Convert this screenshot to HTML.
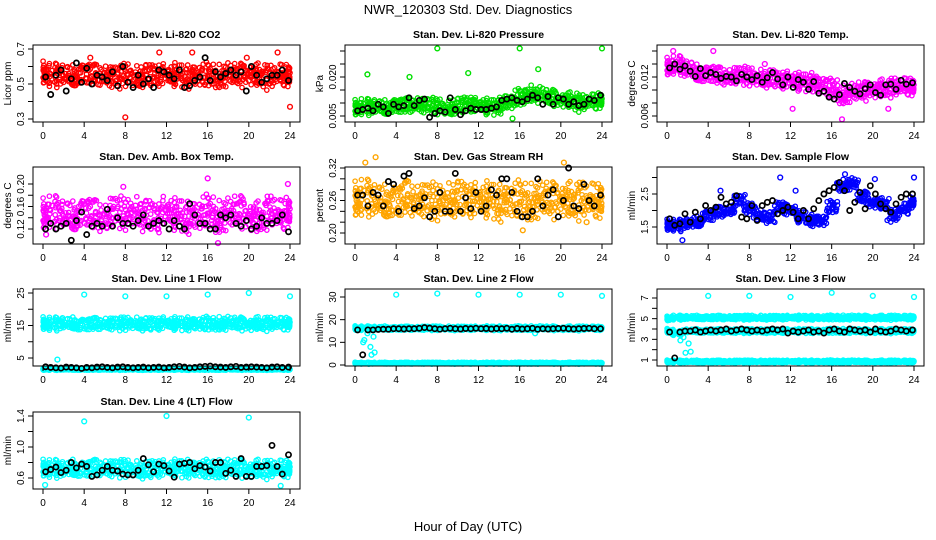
<!DOCTYPE html>
<html><head><meta charset="utf-8"><style>
html,body{margin:0;padding:0;background:#fff;}
svg{display:block;font-family:"Liberation Sans",sans-serif;}
</style></head><body>
<svg id="chart" width="936" height="540" viewBox="0 0 936 540">
<text x="468" y="14" text-anchor="middle" font-size="13">NWR_120303 Std. Dev. Diagnostics</text>
<text x="468" y="531" text-anchor="middle" font-size="13">Hour of Day (UTC)</text>
</svg>
<script>
const xTicks = [0,4,8,12,16,20,24];
const cloudHours = [0,1,2,3,4,5,6,7,8,9,10,11,12,13,14,15,16,17,18,19,20,21,22,23,24];
const blackHours = [0.25,0.75,1.25,1.75,2.25,2.75,3.25,3.75,4.25,4.75,5.25,5.75,6.25,6.75,7.25,7.75,8.25,8.75,9.25,9.75,10.25,10.75,11.25,11.75,12.25,12.75,13.25,13.75,14.25,14.75,15.25,15.75,16.25,16.75,17.25,17.75,18.25,18.75,19.25,19.75,20.25,20.75,21.25,21.75,22.25,22.75,23.25,23.85];

const co2Cloud = [0.56,0.55,0.55,0.54,0.56,0.55,0.55,0.54,0.55,0.54,0.55,0.55,0.55,0.55,0.54,0.55,0.55,0.54,0.55,0.55,0.56,0.55,0.54,0.55,0.55];
const co2Black = [0.54,0.44,0.55,0.58,0.46,0.53,0.62,0.51,0.59,0.50,0.55,0.54,0.52,0.57,0.49,0.60,0.51,0.48,0.55,0.50,0.53,0.48,0.58,0.57,0.55,0.53,0.58,0.48,0.49,0.52,0.54,0.65,0.52,0.57,0.54,0.56,0.58,0.55,0.57,0.46,0.60,0.55,0.51,0.53,0.55,0.55,0.58,0.52];
const co2Out = [[8,0.31],[24,0.37],[11.3,0.68],[14.5,0.68],[22.8,0.68],[4.6,0.65],[19.8,0.65]];

const presCloud = [0.0080,0.0085,0.0085,0.008,0.009,0.009,0.0095,0.009,0.0085,0.008,0.009,0.0095,0.009,0.0085,0.009,0.0105,0.012,0.0135,0.013,0.012,0.0115,0.011,0.010,0.0105,0.011];
const presBlack = [0.007,0.0075,0.008,0.007,0.0095,0.0085,0.006,0.0095,0.0085,0.009,0.012,0.009,0.011,0.0115,0.0045,0.006,0.007,0.0065,0.012,0.0075,0.0055,0.007,0.008,0.0075,0.0075,0.0075,0.008,0.0085,0.011,0.0115,0.012,0.011,0.0105,0.0115,0.013,0.012,0.0095,0.0125,0.0095,0.012,0.0115,0.0095,0.0105,0.009,0.0095,0.0115,0.011,0.013];
const presOut = [[8,0.031],[16,0.031],[24,0.031],[1.2,0.021],[17.8,0.023],[15.3,0.004],[5.3,0.020],[11,0.0215]];

const tempCloud = [0.0135,0.0138,0.0132,0.0125,0.0125,0.0122,0.012,0.0122,0.012,0.0118,0.0118,0.0115,0.0115,0.0112,0.0112,0.0108,0.0102,0.0092,0.0095,0.0098,0.0102,0.0102,0.0104,0.0105,0.0105];
const tempBlack = [0.0134,0.0140,0.0132,0.0137,0.0129,0.0121,0.0133,0.0122,0.0127,0.0124,0.0118,0.0121,0.0120,0.0114,0.0124,0.0120,0.0116,0.0122,0.0112,0.0119,0.0127,0.0117,0.0108,0.0120,0.0104,0.0116,0.0112,0.0101,0.0113,0.0095,0.0098,0.0089,0.0086,0.0093,0.0110,0.0104,0.0098,0.0094,0.0102,0.0108,0.0096,0.0092,0.0108,0.0109,0.0101,0.0115,0.0109,0.0111];
const tempOut = [[0.6,0.016],[4.5,0.016],[17,0.0055],[12.2,0.0071],[21.5,0.0071],[9.5,0.0140]];

const ambCloud = [0.145,0.15,0.145,0.14,0.15,0.145,0.14,0.15,0.145,0.15,0.145,0.14,0.15,0.145,0.14,0.145,0.15,0.14,0.145,0.15,0.145,0.14,0.15,0.145,0.15];
const ambBlack = [0.12,0.13,0.12,0.125,0.13,0.1,0.135,0.15,0.11,0.125,0.13,0.125,0.155,0.125,0.14,0.13,0.13,0.125,0.135,0.145,0.125,0.13,0.135,0.13,0.12,0.135,0.125,0.12,0.165,0.145,0.13,0.13,0.12,0.12,0.145,0.14,0.145,0.13,0.125,0.135,0.12,0.125,0.14,0.13,0.13,0.135,0.145,0.115];
const ambOut = [[16,0.21],[17,0.095],[0.3,0.11],[7.8,0.195],[23.8,0.2]];

const rhCloud = [0.26,0.265,0.26,0.255,0.26,0.265,0.26,0.26,0.255,0.26,0.265,0.26,0.26,0.26,0.255,0.26,0.26,0.255,0.26,0.26,0.265,0.26,0.26,0.26,0.26];
const rhBlack = [0.27,0.27,0.25,0.275,0.27,0.25,0.295,0.29,0.24,0.305,0.31,0.245,0.25,0.265,0.23,0.24,0.275,0.24,0.24,0.31,0.24,0.265,0.245,0.275,0.24,0.25,0.28,0.27,0.30,0.30,0.275,0.24,0.23,0.23,0.24,0.30,0.25,0.27,0.28,0.23,0.26,0.32,0.25,0.245,0.29,0.26,0.25,0.27];
const rhOut = [[2,0.34],[16.3,0.205],[20.3,0.33],[1,0.33],[22.5,0.22]];

const flowCloud = [1.55,1.55,1.6,1.65,1.85,1.95,2.0,2.3,2.05,1.85,1.8,2.1,2.0,1.8,1.7,1.7,2.1,2.75,2.8,2.4,2.25,2.2,1.85,2.05,2.25];
const flowBlack = [1.75,1.55,1.6,1.9,1.65,1.95,1.75,2.15,2.0,2.1,2.4,2.2,2.25,2.45,1.8,1.75,2.15,1.7,2.15,2.25,2.3,1.9,2.0,2.1,1.95,1.75,2.0,1.75,2.05,2.3,2.5,2.6,2.7,2.85,2.6,2.0,2.25,2.55,2.05,2.75,2.5,2.2,2.05,1.95,2.2,2.4,2.5,2.5];
const flowOut = [[1.5,1.1],[5.2,2.6],[11,3.0],[12.5,2.6],[17.3,3.1],[24,3.0],[20.2,2.95]];

const l1Upper = [15.5,15.5,15.6,15.5,15.4,15.5,15.6,15.5,15.5,15.6,15.5,15.5,15.6,15.5,15.5,15.6,15.5,15.5,15.6,15.5,15.5,15.6,15.5,15.5,15.6];
const l1Lower = [1.5,1.5,1.5,1.5,1.5,1.5,1.5,1.5,1.5,1.5,1.5,1.5,1.5,1.5,1.5,1.5,1.5,1.5,1.5,1.5,1.5,1.5,1.5,1.5,1.5];
const l1Black = [2.3,2.1,2.0,1.9,2.2,2.1,2.0,1.8,2.1,2.0,2.2,2.3,2.1,2.0,2.2,2.3,2.1,2.0,2.1,2.2,2.0,2.1,2.2,2.0,2.1,2.3,2.4,2.2,2.0,2.1,2.3,2.4,2.5,2.3,2.2,2.1,2.3,2.4,2.1,2.2,2.3,2.2,2.1,2.0,2.2,2.3,2.1,2.2];
const l1Out = [[4,24.5],[8,24],[12,24],[16,24.5],[20,25],[24,24],[1.4,4.5]];

const l2Upper = [16.2,16.2,16.2,16.2,16.2,16.2,16.2,16.2,16.2,16.2,16.2,16.2,16.2,16.2,16.2,16.2,16.2,16.2,16.2,16.2,16.2,16.2,16.2,16.2,16.2];
const l2Lower = [0.8,0.8,0.8,0.8,0.8,0.8,0.8,0.8,0.8,0.8,0.8,0.8,0.8,0.8,0.8,0.8,0.8,0.8,0.8,0.8,0.8,0.8,0.8,0.8,0.8];
const l2Black = [15.5,4.5,15.5,15.5,15.7,15.8,15.8,16,16,15.9,16,16,16.2,16.5,16.3,16,15.8,16,16.2,16,15.9,16.1,16,16.2,16,16.1,15.9,16.1,16,16.2,15.8,16.1,15.9,16,16.2,15.8,16,15.9,16,16.1,16.2,16.0,15.9,16,16.1,16.2,16,16];
const l2Out = [[4,31],[8,31.5],[12,31],[16,31],[20,31],[24,30.5],[0.8,10],[0.9,11],[1.5,8],[1.2,14],[1.8,12.5],[1.6,4.5],[1.9,5.5],[17.5,14]];

const l3Upper = [5.0,5.1,5.1,5.1,5.1,5.1,5.1,5.1,5.1,5.1,5.1,5.1,5.1,5.1,5.1,5.1,5.1,5.1,5.1,5.1,5.1,5.1,5.1,5.1,5.1];
const l3Mid = [3.8,3.6,3.8,3.8,3.8,3.8,3.8,3.8,3.8,3.8,3.8,3.8,3.8,3.8,3.8,3.8,3.8,3.8,3.8,3.8,3.8,3.8,3.8,3.8,3.8];
const l3Lower = [0.85,0.85,0.85,0.85,0.85,0.85,0.85,0.85,0.85,0.85,0.85,0.85,0.85,0.85,0.85,0.85,0.85,0.85,0.85,0.85,0.85,0.85,0.85,0.85,0.85];
const l3Black = [3.7,1.2,3.7,3.8,3.8,3.9,3.7,3.8,3.9,3.8,3.9,4.0,3.8,3.9,4.0,3.9,3.8,3.9,3.8,3.9,4.0,3.9,4.0,3.6,3.8,3.7,3.8,3.9,3.7,3.8,3.6,3.9,4.0,3.8,3.7,4.0,3.9,3.8,3.9,3.7,4.0,3.8,3.7,3.8,4.0,3.9,3.8,3.9];
const l3Out = [[4,7.2],[8,7.2],[12,7.1],[16,7.5],[20,7.2],[24,7.1],[1.3,2.9],[1.6,3.2],[1.8,1.7],[2.3,1.8],[2.1,2.6]];

const l4Cloud = [0.72,0.72,0.71,0.72,0.72,0.73,0.73,0.72,0.72,0.71,0.71,0.72,0.72,0.72,0.72,0.72,0.71,0.71,0.72,0.72,0.72,0.72,0.71,0.72,0.72];
const l4Black = [0.68,0.71,0.74,0.67,0.70,0.80,0.73,0.78,0.75,0.62,0.64,0.70,0.75,0.70,0.69,0.65,0.64,0.64,0.70,0.85,0.77,0.68,0.78,0.76,0.69,0.61,0.78,0.79,0.80,0.72,0.76,0.74,0.69,0.80,0.80,0.66,0.70,0.62,0.85,0.62,0.62,0.75,0.75,0.76,1.02,0.75,0.65,0.90];
const l4Out = [[4,1.33],[12,1.4],[20,1.38],[23.1,0.5],[0.2,0.51]];

// fixed spreading pattern for cloud marks (dx in hours fraction, dy in band fraction)
const jitter = [[-0.45,0.1],[-0.3,-0.8],[-0.15,0.6],[0.02,-0.2],[0.15,0.9],[0.3,-0.5],[0.45,0.3],[-0.4,-0.4],[-0.2,-0.95],[0.05,0.45],[0.25,0.05],[0.4,-0.85],[-0.35,0.8],[-0.05,-0.6],[0.2,-0.3],[0.35,0.65],[-0.25,0.25],[0.1,-0.1],[-0.1,0.95],[0.48,-0.15],
 [-0.48,-0.7],[-0.12,0.3],[0.28,0.75],[-0.33,-0.1],[0.07,-0.75],[0.42,0.5],[-0.22,-0.45],[0.18,0.2],[-0.02,0.7],[0.33,-0.25],[-0.42,0.55],[0.12,-0.5],[-0.28,0.05],[0.46,0.85],[-0.08,-0.3],[0.24,-0.9]];

const panels = [
 {name:'co2',title:'Stan. Dev. Li-820 CO2',ylab:'Licor ppm',bx:33,by:45,ref:[0.3,119,0.7,49],ticks:[0.3,0.4,0.5,0.6,0.7],labels:['0.3',null,'0.5',null,'0.7'],color:'#ff0000',clouds:[[co2Cloud,0.075]],black:co2Black,out:co2Out},
 {name:'pressure',title:'Stan. Dev. Li-820 Pressure',ylab:'kPa',bx:345,by:45,ref:[0.005,116,0.020,77],ticks:[0.005,0.010,0.015,0.020,0.025,0.030],labels:['0.005',null,null,'0.020',null,null],color:'#00e000',clouds:[[presCloud,0.0035]],black:presBlack,out:presOut},
 {name:'temp',title:'Stan. Dev. Li-820 Temp.',ylab:'degrees C',bx:657,by:45,ref:[0.006,116,0.012,77],ticks:[0.006,0.008,0.010,0.012,0.014,0.016],labels:['0.006',null,null,'0.012',null,null],color:'#ff00ff',clouds:[[tempCloud,0.0016]],black:tempBlack,out:tempOut},
 {name:'amb-box-temp',title:'Stan. Dev. Amb. Box Temp.',ylab:'degrees C',bx:33,by:167,ref:[0.12,229,0.20,184],ticks:[0.12,0.14,0.16,0.18,0.20],labels:['0.12',null,'0.16',null,'0.20'],color:'#ff00ff',clouds:[[ambCloud,0.032]],black:ambBlack,out:ambOut},
 {name:'gas-rh',title:'Stan. Dev. Gas Stream RH',ylab:'percent',bx:345,by:167,ref:[0.20,233,0.32,168],ticks:[0.20,0.22,0.24,0.26,0.28,0.30,0.32],labels:['0.20',null,null,'0.26',null,null,'0.32'],color:'#ffa500',clouds:[[rhCloud,0.038]],black:rhBlack,out:rhOut},
 {name:'sample-flow',title:'Stan. Dev. Sample Flow',ylab:'ml/min',bx:657,by:167,ref:[1.5,227,2.5,194],ticks:[1.5,2.0,2.5,3.0],labels:['1.5',null,'2.5',null],color:'#0000ff',clouds:[[flowCloud,0.2]],black:flowBlack,out:flowOut},
 {name:'line1-flow',title:'Stan. Dev. Line 1 Flow',ylab:'ml/min',bx:33,by:289,ref:[5,358,25,293],ticks:[5,10,15,20,25],labels:['5',null,'15',null,'25'],color:'#00ffff',clouds:[[l1Upper,2.3],[l1Lower,0.3]],black:l1Black,out:l1Out},
 {name:'line2-flow',title:'Stan. Dev. Line 2 Flow',ylab:'ml/min',bx:345,by:289,ref:[0,365,30,297],ticks:[0,10,20,30],labels:['0','10','20','30'],color:'#00ffff',clouds:[[l2Upper,1.1],[l2Lower,0.45]],black:l2Black,out:l2Out},
 {name:'line3-flow',title:'Stan. Dev. Line 3 Flow',ylab:'ml/min',bx:657,by:289,ref:[1,360,7,298],ticks:[1,2,3,4,5,6,7],labels:['1',null,'3',null,'5',null,'7'],color:'#00ffff',clouds:[[l3Upper,0.25],[l3Mid,0.25],[l3Lower,0.15]],black:l3Black,out:l3Out},
 {name:'line4-flow',title:'Stan. Dev. Line 4 (LT) Flow',ylab:'ml/min',bx:33,by:412,ref:[0.6,478,1.4,416],ticks:[0.6,0.8,1.0,1.2,1.4],labels:['0.6',null,'1.0',null,'1.4'],color:'#00ffff',clouds:[[l4Cloud,0.13]],black:l4Black,out:l4Out}
];

const NS='http://www.w3.org/2000/svg';
const svg=document.getElementById('chart');
const BW=267, BH=77;
function mk(tag,attrs,parent){const e=document.createElementNS(NS,tag);for(const k in attrs)e.setAttribute(k,attrs[k]);parent.appendChild(e);return e;}

panels.forEach(p=>{
  const g=mk('g',{},svg);
  
  
  const xS=h=>p.bx+10+h*(BW-20)/24;
  const yS=v=>p.ref[1]+(v-p.ref[0])*(p.ref[3]-p.ref[1])/(p.ref[2]-p.ref[0]);
  const t=mk('text',{x:p.bx+BW/2,y:p.by-7,'text-anchor':'middle','font-size':'10.5','font-weight':'bold'},g);
  t.textContent=p.title;
  
  
  const mg=mk('g',{fill:'none'},g);
  
  
  const L=jitter.length;
  p.clouds.forEach(c=>{
    const vals=c[0], spread=c[1];
    vals.forEach((v,i)=>{
      for(let k=0;k<24;k++){
        const j=jitter[(k*5+i*7)%L];
        const j2=jitter[(k*11+i*3+4)%L];
        let h=cloudHours[i]+j[0]+j2[0]*0.25;
        if(h<0)h=-h*0.3; if(h>24)h=24-(h-24)*0.3;
        const dy=j[1]*0.75+j2[1]*0.3;
        const cc=mk('circle',{cx:xS(h).toFixed(1),cy:yS(v+dy*spread).toFixed(1),r:2.2,stroke:p.color,'stroke-width':1.3},mg);
        
        
      }
    });
  });
  p.out.forEach(o=>{
    const cc=mk('circle',{cx:xS(o[0]).toFixed(1),cy:yS(o[1]).toFixed(1),r:2.4,stroke:p.color,'stroke-width':1.4},mg);
    
    
  });
  p.black.forEach((v,i)=>{
    const cc=mk('circle',{cx:xS(blackHours[i]).toFixed(1),cy:yS(v).toFixed(1),r:2.6,stroke:'#000','stroke-width':1.7},mg);
    
    
  });
  const box=mk('rect',{x:p.bx,y:p.by,width:BW,height:BH,fill:'none',stroke:'#000','stroke-width':1},g);
  
  
  const xa=mk('g',{stroke:'#000','stroke-width':1},g);
  
  
  const yb=p.by+BH;
  xTicks.forEach(h=>{
    mk('line',{x1:xS(h),x2:xS(h),y1:yb,y2:yb+5},xa);
    const tl=mk('text',{x:xS(h),y:yb+17,'text-anchor':'middle','font-size':'10',stroke:'none',fill:'#000'},xa);
    tl.textContent=h;
  });
  const ya=mk('g',{stroke:'#000','stroke-width':1},g);
  
  
  p.ticks.forEach((v,i)=>{
    const y=yS(v);
    mk('line',{x1:p.bx-5,x2:p.bx,y1:y,y2:y},ya);
    if(p.labels[i]){
      const tl=mk('text',{x:0,y:0,'text-anchor':'middle','font-size':'10',stroke:'none',fill:'#000',transform:`translate(${p.bx-9},${y}) rotate(-90)`},ya);
      tl.textContent=p.labels[i];
    }
  });
  const yl=mk('text',{x:0,y:0,'text-anchor':'middle','font-size':'10',transform:`translate(${p.bx-22},${p.by+BH/2}) rotate(-90)`},g);
  yl.textContent=p.ylab;
  
  
});
</script>
</body></html>
